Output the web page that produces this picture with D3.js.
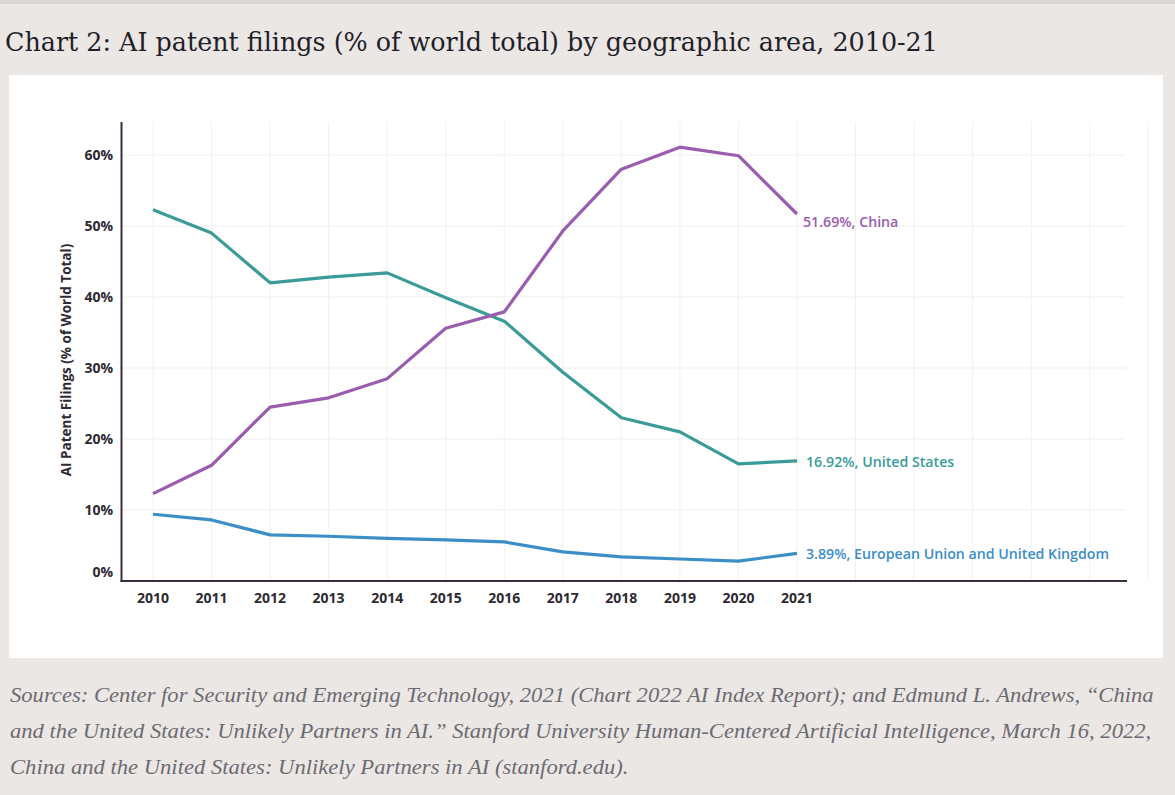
<!DOCTYPE html>
<html><head><meta charset="utf-8">
<script src="https://cdn.jsdelivr.net/npm/d3@7"></script>
<style>body{margin:0;background:#ebe7e4;}svg{display:block;}</style>
</head><body>
<svg id="c" width="1175" height="795"></svg>
<script>
const years = [2010,2011,2012,2013,2014,2015,2016,2017,2018,2019,2020,2021];
const usValues = [52.3,49.0,42.0,42.8,43.4,39.9,36.6,29.4,23.0,21.0,16.5,16.92];
const chinaValues = [12.3,16.3,24.5,25.8,28.5,35.6,37.9,49.3,58.0,61.1,59.9,51.69];
const euValues = [9.4,8.6,6.5,6.3,6.0,5.8,5.5,4.1,3.4,3.1,2.8,3.89];
const seriesNames = ["United States","China","European Union and United Kingdom"];
const endLabels = ["16.92%, United States","51.69%, China","3.89%, European Union and United Kingdom"];
const yTicks = [0,10,20,30,40,50,60];
const gridYears = [2010,2011,2012,2013,2014,2015,2016,2017,2018,2019,2020,2021,2022,2023,2024,2025,2026,2027];
const titleText = "Chart 2: AI patent filings (% of world total) by geographic area, 2010-21";
const sourceLines = [
 "Sources: Center for Security and Emerging Technology, 2021 (Chart 2022 AI Index Report); and Edmund L. Andrews, \u201cChina",
 "and the United States: Unlikely Partners in AI.\u201d Stanford University Human-Centered Artificial Intelligence, March 16, 2022,",
 "China and the United States: Unlikely Partners in AI (stanford.edu)."
];

const svg = d3.select("#c");
svg.append("rect").attr("x",0).attr("y",0).attr("width",1175).attr("height",4).attr("fill","#d9d5d2");
svg.append("text").attr("x",5).attr("y",51).attr("font-family","DejaVu Serif, serif")
  .attr("font-size",25.4).attr("fill","#1f1f2a").text(titleText);
svg.append("rect").attr("x",9).attr("y",75).attr("width",1154).attr("height",583).attr("fill","#fff");

const x = d3.scaleLinear().domain([2010,2021]).range([153,797]);
const y = d3.scaleLinear().domain([0,60]).range([581,155]);
const xEnd = 1127;

const g = svg.append("g");
g.selectAll(".hg").data(yTicks.slice(1)).join("line")
  .attr("x1",122).attr("x2",1125).attr("y1",d=>y(d)).attr("y2",d=>y(d))
  .attr("stroke","#efefef").attr("stroke-width",1);
g.selectAll(".vg").data(gridYears).join("line")
  .attr("x1",d=>x(d)).attr("x2",d=>x(d)).attr("y1",122).attr("y2",581)
  .attr("stroke","#f1f1f1").attr("stroke-width",1);

g.selectAll(".yl").data(yTicks).join("text")
  .attr("x",113).attr("y",d=> d===0 ? y(d)-9 : y(d)).attr("dy","0.35em")
  .attr("text-anchor","end").attr("font-family","Open Sans, sans-serif").attr("font-weight",700)
  .attr("font-size",14).attr("fill","#2e2a33").text(d=>d+"%");
g.selectAll(".xl").data(years).join("text")
  .attr("x",d=>x(d)).attr("y",598).attr("dy","0.35em")
  .attr("text-anchor","middle").attr("font-family","Open Sans, sans-serif").attr("font-weight",700)
  .attr("font-size",14).attr("fill","#2e2a33").text(d=>d);

g.append("line").attr("x1",121.5).attr("x2",121.5).attr("y1",122).attr("y2",582).attr("stroke","#3b2e42").attr("stroke-width",2);
g.append("line").attr("x1",120.5).attr("x2",xEnd).attr("y1",581).attr("y2",581).attr("stroke","#3b2e42").attr("stroke-width",2);

svg.append("text").attr("transform","translate(71,360) rotate(-90)").attr("text-anchor","middle")
  .attr("font-family","Open Sans, sans-serif").attr("font-weight",700).attr("font-size",13.5)
  .attr("fill","#2e2a33").text("AI Patent Filings (% of World Total)");

const series = [
  {vals:usValues, color:"#3a9b98", lx:806, ly:462},
  {vals:chinaValues, color:"#9a5cae", lx:803, ly:222},
  {vals:euValues, color:"#3b8ec6", lx:806, ly:554}
];
const line = d3.line().x((d,i)=>x(years[i])).y(d=>y(d));
series.forEach((s,k)=>{
  g.append("path").datum(s.vals).attr("d",line).attr("fill","none")
    .attr("stroke",s.color).attr("stroke-width",3.2).attr("stroke-linejoin","round");
  g.append("text").attr("x",s.lx).attr("y",s.ly).attr("dy","0.35em")
    .attr("font-family","Open Sans, sans-serif").attr("font-weight",600).attr("font-size",14.2)
    .attr("fill",s.color).text(endLabels[k]);
});

svg.selectAll(".src").data(sourceLines).join("text")
  .attr("transform",(d,i)=>`translate(10,${702+i*36}) scale(1.077,1)`)
  .attr("font-family","Liberation Serif, serif").attr("font-style","italic")
  .attr("font-size",21).attr("fill","#6b6b72").text(d=>d);
</script>
</body></html>
